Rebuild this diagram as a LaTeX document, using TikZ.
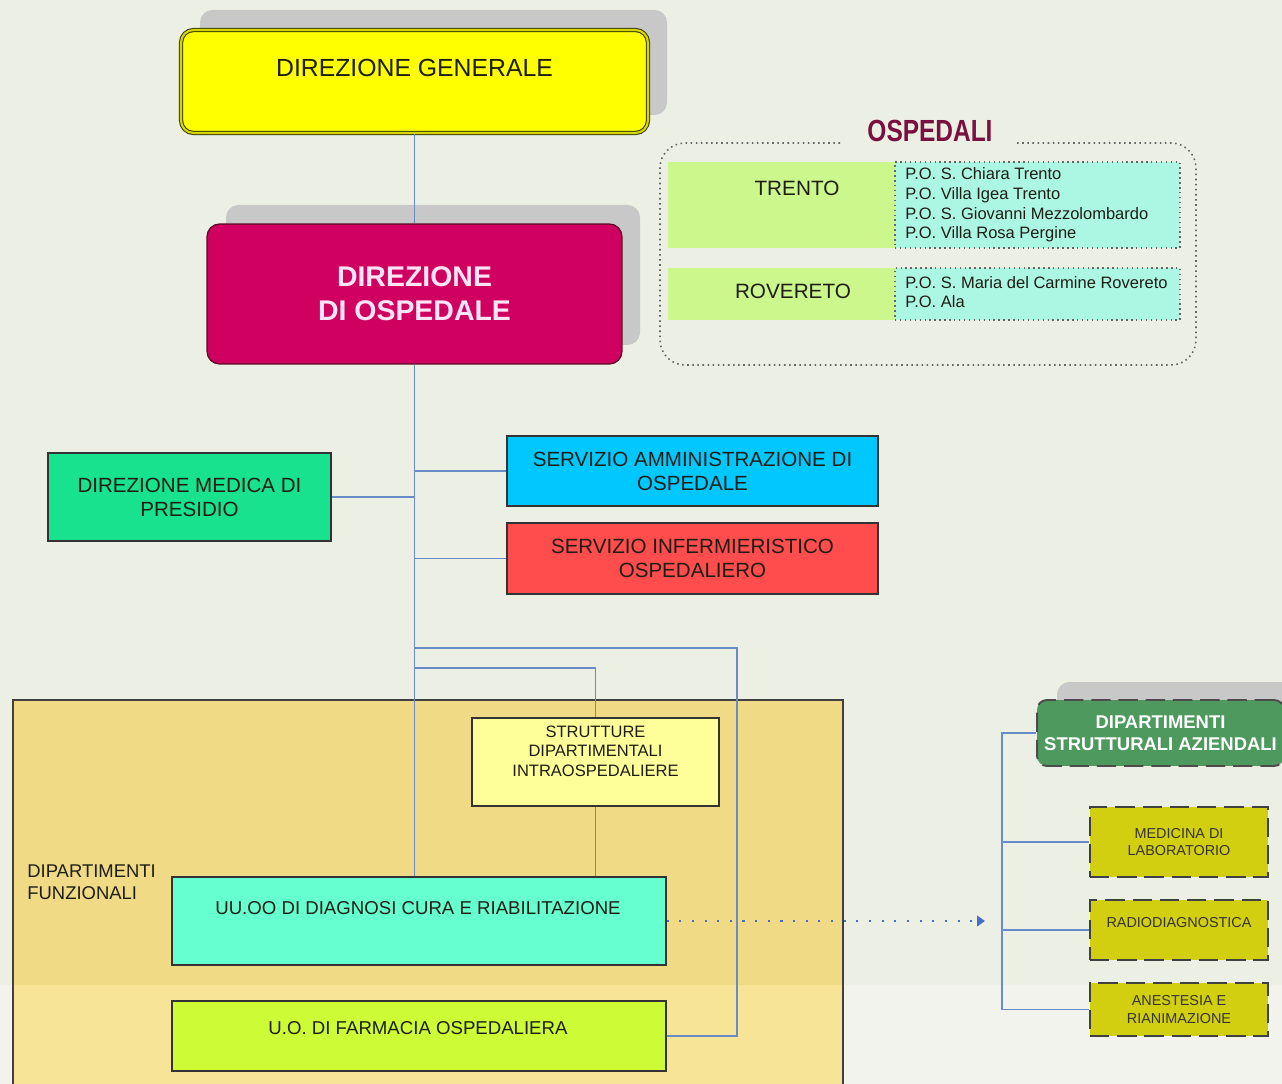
\documentclass[tikz,border=0pt]{standalone}
\usepackage{fontspec}
\setmainfont{Liberation Sans}
\newfontfamily\narrowfont[FakeStretch=0.8]{Liberation Sans}
\usetikzlibrary{arrows.meta}

\definecolor{bgcol}{RGB}{236,239,228}
\definecolor{bglow}{RGB}{243,243,238}
\definecolor{shadowcol}{RGB}{200,200,200}
\definecolor{dgyel}{RGB}{255,255,0}
\definecolor{dgline}{RGB}{214,214,0}
\definecolor{olivedark}{RGB}{60,60,10}
\definecolor{domag}{RGB}{208,0,96}
\definecolor{domagdark}{RGB}{90,10,40}
\definecolor{dotext}{RGB}{255,228,245}
\definecolor{ospcol}{RGB}{122,16,64}
\definecolor{limecol}{RGB}{204,247,140}
\definecolor{cyancol}{RGB}{172,247,228}
\definecolor{dmpgreen}{RGB}{24,226,142}
\definecolor{sammblue}{RGB}{0,200,255}
\definecolor{sinfred}{RGB}{255,76,76}
\definecolor{tancol}{RGB}{240,218,134}
\definecolor{tanlow}{RGB}{248,228,150}
\definecolor{strutyel}{RGB}{255,255,153}
\definecolor{uuaqua}{RGB}{102,255,208}
\definecolor{farmlime}{RGB}{205,252,54}
\definecolor{dsagreen}{RGB}{78,154,94}
\definecolor{oliveyel}{RGB}{210,206,16}
\definecolor{txtcol}{RGB}{30,30,20}
\definecolor{conncol}{RGB}{104,140,200}
\definecolor{arrowcol}{RGB}{70,110,200}

\begin{document}
\begin{tikzpicture}[x=0.02cm, y=-0.02cm, >=latex,
    conn/.style={draw=conncol, line width=1pt},
    box/.style={draw=black!80, line width=0.7pt, inner sep=0pt, align=center, text=txtcol},
    lbl/.style={inner sep=0pt, align=center, text=txtcol},
    shadowbox/.style={fill=shadowcol, rounded corners=0.25cm},
    dashbox/.style={box, fill=oliveyel, draw=black!75, line width=1.1pt,
        dash pattern=on 11pt off 4.5pt, text=black!80!olive,
        minimum width=3.56cm, font=\fontsize{8.2}{10.2}\selectfont}]
    % Sfondo
    \fill[bgcol] (0,0) rectangle (1282,1084);
    \fill[bglow] (0,985) rectangle (1282,1084);
    \useasboundingbox (0,0) rectangle (1282,1084);

    % Ombre
    \fill[shadowbox] (200,10) rectangle (667,115);
    \fill[shadowbox] (226,205) rectangle (640,345);
    \fill[shadowbox] (1057,682) rectangle (1300,748);

    % Direzione generale e direzione di ospedale
    \node[box, fill=dgyel, draw=olivedark, double=dgline, double distance=1.2pt,
        line width=0.6pt, rounded corners=0.25cm, minimum width=9.34cm,
        minimum height=2.06cm] (dg) at (414.5,81.5) {};
    \node[lbl, font=\fontsize{14.1}{16}\selectfont] (dg-t) at (414.5,68) {DIREZIONE GENERALE};
    \node[box, fill=domag, draw=domagdark, rounded corners=0.25cm, minimum width=8.30cm,
        minimum height=2.80cm, text=dotext,
        font=\bfseries\fontsize{16.2}{19.3}\selectfont] (do) at (414.5,294) {DIREZIONE\\DI OSPEDALE};
    \draw[conn] (dg.south) -- (do.north);

    % Ospedali
    \draw[gray!80!black, dotted, line width=0.9pt, rounded corners=0.5cm]
        (840,143) -- (660,143) -- (660,365) -- (1196,365) -- (1196,143) -- (1015,143);
    \node[inner sep=0pt, text=ospcol, font=\narrowfont\bfseries\fontsize{17.4}{20}\selectfont]
        (osp) at (930,131) {OSPEDALI};
    \node[fill=limecol, inner sep=0pt, minimum width=4.54cm, minimum height=1.72cm] (tn) at (781.5,205) {};
    \node[fill=cyancol, draw=black!60, dotted, line width=0.8pt, inner sep=0pt,
        minimum width=5.70cm, minimum height=1.72cm] (tnl) at (1037.5,205) {};
    \node[fill=limecol, inner sep=0pt, minimum width=4.54cm, minimum height=1.04cm] (rv) at (781.5,294) {};
    \node[fill=cyancol, draw=black!60, dotted, line width=0.8pt, inner sep=0pt,
        minimum width=5.70cm, minimum height=1.04cm] (rvl) at (1037.5,294) {};
    \node[lbl, font=\fontsize{11.8}{14}\selectfont] (tn-t) at (797,188) {TRENTO};
    \node[lbl, font=\fontsize{11.8}{14}\selectfont] (rv-t) at (793,291) {ROVERETO};
    \node[lbl, anchor=west, align=left, font=\fontsize{9.4}{11.2}\selectfont] (tnl-t) at (905,205)
        {P.O. S. Chiara Trento\\P.O. Villa Igea Trento\\P.O. S. Giovanni Mezzolombardo\\P.O. Villa Rosa Pergine};
    \node[lbl, anchor=west, align=left, font=\fontsize{9.4}{11.2}\selectfont] (rvl-t) at (905,292)
        {P.O. S. Maria del Carmine Rovereto\\P.O. Ala};

    % Staff
    \node[box, fill=dmpgreen, minimum width=5.66cm, minimum height=1.76cm,
        font=\fontsize{11.7}{13.6}\selectfont] (dmp) at (189.5,497) {DIREZIONE MEDICA DI\\PRESIDIO};
    \node[box, fill=sammblue, minimum width=7.42cm, minimum height=1.40cm,
        font=\fontsize{11.7}{13.6}\selectfont] (samm) at (692.5,471) {SERVIZIO AMMINISTRAZIONE DI\\OSPEDALE};
    \node[box, fill=sinfred, minimum width=7.42cm, minimum height=1.42cm,
        font=\fontsize{11.7}{13.6}\selectfont] (sinf) at (692.5,558.5) {SERVIZIO INFERMIERISTICO\\OSPEDALIERO};

    % Dipartimenti funzionali
    \fill[tancol] (13,700) rectangle (843,985);
    \fill[tanlow] (13,985) rectangle (843,1090);
    \draw[black!75, line width=0.7pt] (13,1090) -- (13,700) -- (843,700) -- (843,1090);
    \node[lbl, anchor=west, align=left, font=\fontsize{10.5}{12.5}\selectfont] (df-t) at (27,882)
        {DIPARTIMENTI\\FUNZIONALI};
    \node[box, fill=strutyel, minimum width=4.94cm, minimum height=1.76cm] (strutt) at (595.5,762) {};
    \node[lbl, font=\fontsize{9.4}{11}\selectfont] (strutt-t) at (595.5,751)
        {STRUTTURE\\DIPARTIMENTALI\\INTRAOSPEDALIERE};
    \node[box, fill=uuaqua, minimum width=9.88cm, minimum height=1.76cm] (uuoo) at (419,921) {};
    \node[lbl, font=\fontsize{10.6}{12.5}\selectfont] (uuoo-t) at (418,908) {UU.OO DI DIAGNOSI CURA E RIABILITAZIONE};
    \node[box, fill=farmlime, minimum width=9.88cm, minimum height=1.40cm] (farm) at (419,1036) {};
    \node[lbl, font=\fontsize{10.6}{12.5}\selectfont] (farm-t) at (418,1028) {U.O. DI FARMACIA OSPEDALIERA};

    % Collegamenti
    \coordinate (jf) at (737,648);
    \coordinate (js) at (0,668);
    \draw[conn] (do.south) -- (do.south |- uuoo.north);
    \draw[conn] (dmp.east) -- (dmp.east -| do.south);
    \draw[conn] (do.south |- samm.west) -- (samm.west);
    \draw[conn] (do.south |- sinf.west) -- (sinf.west);
    \draw[conn] (do.south |- jf) -- (jf) |- (farm.east);
    \draw[conn] (do.south |- js) -| (strutt.north);
    \draw[conn] (strutt.south) -- (strutt.south |- uuoo.north);

    % Dipartimenti strutturali aziendali
    \node[box, fill=dsagreen, draw=black!70, line width=1.1pt, dash pattern=on 11pt off 4.5pt,
        rounded corners=0.2cm, minimum width=4.94cm, minimum height=1.32cm, text=white,
        font=\bfseries\fontsize{10.5}{12.5}\selectfont] (dsa) at (1160.5,733) {DIPARTIMENTI\\STRUTTURALI AZIENDALI};
    \node[dashbox, minimum height=1.40cm] (med) at (1179,842) {MEDICINA DI\\LABORATORIO};
    \node[dashbox, minimum height=1.20cm, text depth=0.3cm] (radio) at (1179,930) {RADIODIAGNOSTICA};
    \node[dashbox, minimum height=1.06cm] (anest) at (1179,1009.5) {ANESTESIA E\\RIANIMAZIONE};
    \coordinate (bb) at (1002,1009.5);
    \draw[conn] (dsa.west) -| (bb) -- (anest.west);
    \draw[conn] (bb |- med.west) -- (med.west);
    \draw[conn] (bb |- radio.west) -- (radio.west);

    % Freccia tratteggiata
    \coordinate (ar) at (985,921);
    \draw[arrowcol, line width=1.2pt, dash pattern=on 1.2pt off 6pt,
        -{Triangle[width=6pt,length=4.5pt]}] (uuoo.east) -- (ar);
\end{tikzpicture}
\end{document}
